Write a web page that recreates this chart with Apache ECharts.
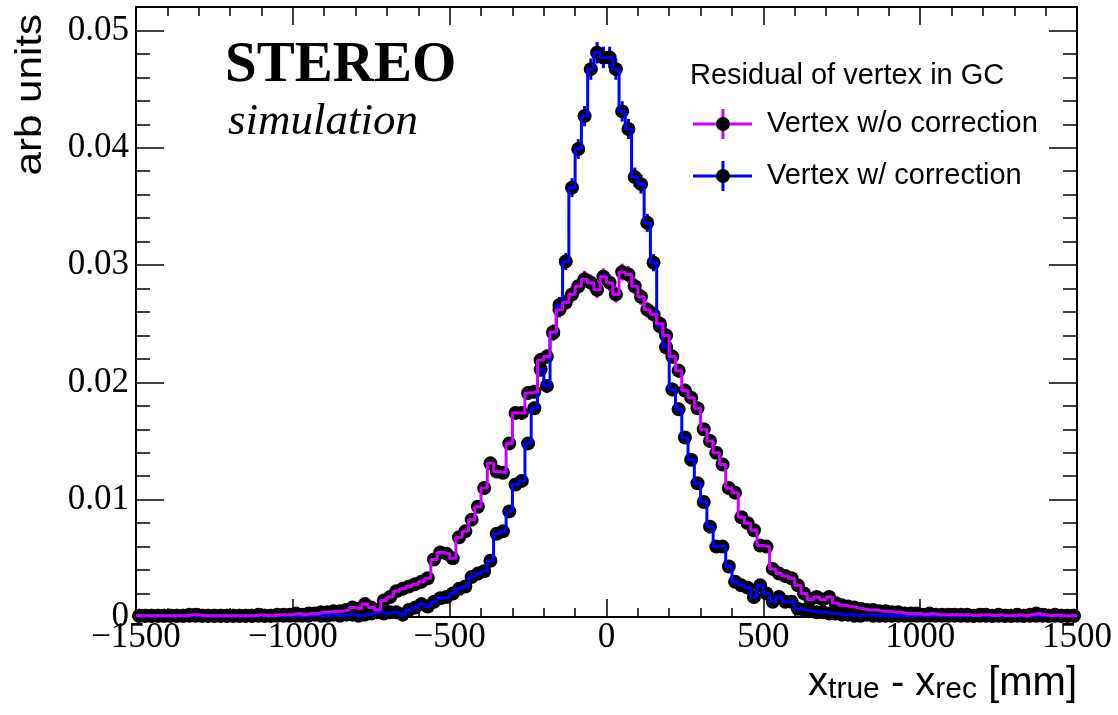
<!DOCTYPE html>
<html><head><meta charset="utf-8">
<script src="https://cdn.jsdelivr.net/npm/echarts@6/dist/echarts.min.js"></script>
<style>html,body{margin:0;padding:0;background:#fff}#c{width:1118px;height:715px}</style>
</head><body><div id="c"></div>
<script>
// ---- data ----
const X_MIN = -1500, X_MAX = 1500, BIN_WIDTH = 20;
const X_TICK_STEP = 500;
const Y_MAX = 0.052, Y_TICK_STEP = 0.01, Y_MINOR_STEP = 0.002;
const SERIES_NAMES = ['Vertex w/o correction', 'Vertex w/ correction'];
const LEGEND_TITLE = 'Residual of vertex in GC';
const X_TITLE = ['x', 'true', ' - x', 'rec', ' [mm]'];
const Y_TITLE = 'arb units';
const LABEL_MAIN = 'STEREO';
const LABEL_SUB = 'simulation';

// bin contents, 150 bins of 20 mm from -1500 to 1500
const WO_CORR = [
 0.0001,0.0001,0.0001,0.0001,0.0001,0.0001,0.0001,0.0001,0.0002,0.0002,
 0.0001,0.0001,0.0001,0.0001,0.0001,0.0001,0.0001,0.0001,0.0001,0.0002,
 0.0001,0.0001,0.0002,0.0002,0.0002,0.0003,0.0002,0.0003,0.0003,0.0004,
 0.0004,0.0005,0.0005,0.0006,0.0008,0.0007,0.0011,0.0008,0.0006,0.0014,
 0.0017,0.0022,0.0024,0.0026,0.0028,0.0030,0.0033,0.0049,0.0055,0.0054,
 0.0050,0.0068,0.0073,0.0083,0.0094,0.0110,0.0131,0.0124,0.0123,0.0148,
 0.0174,0.0174,0.0191,0.0192,0.0219,0.0222,0.0243,0.0262,0.0268,0.0275,
 0.0282,0.0288,0.0285,0.0279,0.0290,0.0285,0.0275,0.0294,0.0292,0.0282,
 0.0273,0.0262,0.0258,0.0250,0.0240,0.0222,0.0210,0.0193,0.0187,0.0178,
 0.0160,0.0150,0.0140,0.0130,0.0110,0.0106,0.0085,0.0080,0.0074,0.0061,
 0.0060,0.0041,0.0037,0.0035,0.0033,0.0027,0.0020,0.0015,0.0017,0.0015,
 0.0017,0.0012,0.0010,0.0009,0.0008,0.0007,0.0006,0.0006,0.0005,0.0005,
 0.0004,0.0004,0.0003,0.0003,0.0003,0.0002,0.0003,0.0002,0.0002,0.0002,
 0.0002,0.0002,0.0002,0.0001,0.0002,0.0002,0.0001,0.0002,0.0001,0.0001,
 0.0002,0.0001,0.0002,0.0003,0.0002,0.0001,0.0002,0.0001,0.0001,0.0001
];
const W_CORR = [
 0.0001,0.0001,0.0001,0.0001,0.0001,0.0001,0.0001,0.0001,0.0001,0.0001,
 0.0001,0.0001,0.0001,0.0001,0.0001,0.0001,0.0001,0.0001,0.0001,0.0001,
 0.0001,0.0001,0.0001,0.0001,0.0001,0.0001,0.0001,0.0001,0.0002,0.0001,
 0.0001,0.0002,0.0001,0.0002,0.0002,0.0001,0.0002,0.0003,0.0004,0.0003,
 0.0004,0.0004,0.0002,0.0006,0.0008,0.0011,0.0009,0.0013,0.0016,0.0017,
 0.0020,0.0024,0.0026,0.0034,0.0037,0.0039,0.0048,0.0071,0.0073,0.0090,
 0.0113,0.0116,0.0148,0.0178,0.0211,0.0197,0.0242,0.0266,0.0303,0.0366,
 0.0399,0.0427,0.0467,0.0481,0.0477,0.0477,0.0467,0.0431,0.0416,0.0375,
 0.0369,0.0336,0.0302,0.0248,0.0230,0.0194,0.0177,0.0153,0.0134,0.0114,
 0.0098,0.0077,0.0060,0.0060,0.0043,0.0030,0.0027,0.0025,0.0017,0.0027,
 0.0020,0.0013,0.0017,0.0013,0.0013,0.0007,0.0006,0.0005,0.0004,0.0004,
 0.0003,0.0003,0.0002,0.0002,0.0001,0.0001,0.0002,0.0001,0.0001,0.0001,
 0.0001,0.0001,0.0001,0.0001,0.0001,0.0001,0.0001,0.0001,0.0001,0.0001,
 0.0001,0.0001,0.0001,0.0001,0.0001,0.0001,0.0001,0.0001,0.0001,0.0001,
 0.0001,0.0001,0.0001,0.0001,0.0001,0.0001,0.0001,0.0001,0.0001,0.0001
];
// statistical error bar half-length per sqrt(content)
const ERR_PER_SQRT = 0.0042;

// ---- styling ----
const COL_WO = '#cc00ff';
const COL_W = '#0000ff';
const SERIF = 'Liberation Serif';
const SANS = 'Liberation Sans';

const centers = WO_CORR.map((_, i) => X_MIN + BIN_WIDTH * (i + 0.5));
function stepData(vals) {
  const out = [];
  vals.forEach((v, i) => {
    const lo = X_MIN + BIN_WIDTH * i;
    out.push([lo, v], [lo + BIN_WIDTH, v]);
  });
  return out;
}
function pointData(vals) { return vals.map((v, i) => [centers[i], v]); }
function errData(vals) { return vals.map((v, i) => [centers[i], v, ERR_PER_SQRT * Math.sqrt(v)]); }

function errSeries(name, vals, color) {
  return {
    type: 'custom', name: name + ' errors', data: errData(vals), clip: true, silent: true,
    renderItem: function (params, api) {
      const x = api.value(0), y = api.value(1), e = api.value(2);
      const p1 = api.coord([x, y - e]), p2 = api.coord([x, y + e]);
      return { type: 'line', shape: { x1: p1[0], y1: p1[1], x2: p2[0], y2: p2[1] },
        style: { stroke: color, lineWidth: 3 } };
    }
  };
}
function markerSeries(name, vals) {
  return { type: 'scatter', name: name + ' markers', data: pointData(vals), symbol: 'circle',
    symbolSize: 14, itemStyle: { color: '#000', opacity: 1 }, silent: true, clip: true };
}
function lineSeries(name, vals, color) {
  return { type: 'line', name: name, data: stepData(vals), showSymbol: false, symbol: 'none',
    lineStyle: { color: color, width: 3 }, itemStyle: { color: color }, silent: true, clip: true };
}

const axisLineStyle = { show: true, onZero: false, lineStyle: { color: '#000', width: 2 } };
function xAxisCfg(pos, labels) {
  return {
    type: 'value', position: pos, min: X_MIN, max: X_MAX, interval: X_TICK_STEP,
    axisLine: axisLineStyle,
    axisTick: { show: true, inside: true, length: 18, lineStyle: { color: '#000', width: 1.5 } },
    minorTick: { show: true, splitNumber: 5, length: 9, lineStyle: { color: '#000', width: 1.5 } },
    splitLine: { show: false }, minorSplitLine: { show: false },
    axisLabel: { show: labels, color: '#000', fontFamily: SERIF, fontSize: 35, margin: 3,
      formatter: v => String(v).replace('-', '\u2212') }
  };
}
function yAxisCfg(pos, step, len, labels, line) {
  return {
    type: 'value', position: pos, min: 0, max: Y_MAX, interval: step,
    axisLine: line ? axisLineStyle : { show: false, onZero: false },
    axisTick: { show: true, inside: true, length: len, lineStyle: { color: '#000', width: 1.5 } },
    splitLine: { show: false },
    axisLabel: { show: labels, color: '#000', fontFamily: SERIF, fontSize: 35, margin: 7,
      padding: [10, 0, 0, 0],
      formatter: function (v) {
        const k = Math.round(v / Y_TICK_STEP);
        if (Math.abs(v - k * Y_TICK_STEP) > 1e-9) return '';
        return k === 0 ? '0' : (k * Y_TICK_STEP).toFixed(2);
      } }
  };
}

const legendRows = [
  { name: SERIES_NAMES[0], color: COL_WO, y: 124 },
  { name: SERIES_NAMES[1], color: COL_W, y: 176 }
];
const graphics = [
  { type: 'text', x: 225, y: 66, style: { text: LABEL_MAIN, font: 'bold 57px ' + SERIF, fill: '#000', verticalAlign: 'middle' } },
  { type: 'text', x: 228, y: 122, style: { text: LABEL_SUB, font: 'italic 45px ' + SERIF, fill: '#000', verticalAlign: 'middle' } },
  { type: 'text', x: 690, y: 76, style: { text: LEGEND_TITLE, font: '29px ' + SANS, fill: '#000', verticalAlign: 'middle' } },
  { type: 'text', x: 31, y: 14, rotation: Math.PI / 2, scaleX: 1.17,
    style: { text: Y_TITLE, font: '36px ' + SANS, fill: '#000', align: 'right', verticalAlign: 'middle' } },
  { type: 'text', x: 1077, y: 684,
    style: { text: '{m|' + X_TITLE[0] + '}{s|' + X_TITLE[1] + '}{m|' + X_TITLE[2] + '}{s|' + X_TITLE[3] + '}{m|' + X_TITLE[4] + '}',
      align: 'right', verticalAlign: 'middle',
      rich: { m: { fontFamily: SANS, fontSize: 40, lineHeight: 42, fill: '#000' },
              s: { fontFamily: SANS, fontSize: 30, lineHeight: 12, verticalAlign: 'bottom', fill: '#000' } } } }
];
legendRows.forEach(r => {
  graphics.push(
    { type: 'line', shape: { x1: 693, y1: r.y, x2: 752, y2: r.y }, style: { stroke: r.color, lineWidth: 3 } },
    { type: 'line', shape: { x1: 723, y1: r.y - 15, x2: 723, y2: r.y + 15 }, style: { stroke: r.color, lineWidth: 3 } },
    { type: 'circle', shape: { cx: 723, cy: r.y, r: 7 }, style: { fill: '#000' } },
    { type: 'text', x: 767, y: r.y, style: { text: r.name, font: '29px ' + SANS, fill: '#000', verticalAlign: 'middle' } }
  );
});

const chart = echarts.init(document.getElementById('c'), null, { renderer: 'canvas' });
chart.setOption({
  animation: false,
  backgroundColor: '#fff',
  grid: { left: 136, right: 41, top: 7, bottom: 98, containLabel: false, outerBoundsMode: 'none' },
  xAxis: [xAxisCfg('bottom', true), xAxisCfg('top', false)],
  yAxis: [
    yAxisCfg('left', Y_TICK_STEP, 28, true, true),
    yAxisCfg('left', Y_MINOR_STEP, 14, false, false),
    yAxisCfg('right', Y_TICK_STEP, 28, false, true),
    yAxisCfg('right', Y_MINOR_STEP, 14, false, false)
  ],
  series: [
    errSeries(SERIES_NAMES[1], W_CORR, COL_W),
    markerSeries(SERIES_NAMES[1], W_CORR),
    lineSeries(SERIES_NAMES[1], W_CORR, COL_W),
    errSeries(SERIES_NAMES[0], WO_CORR, COL_WO),
    markerSeries(SERIES_NAMES[0], WO_CORR),
    lineSeries(SERIES_NAMES[0], WO_CORR, COL_WO)
  ],
  graphic: graphics
});
</script></body></html>
